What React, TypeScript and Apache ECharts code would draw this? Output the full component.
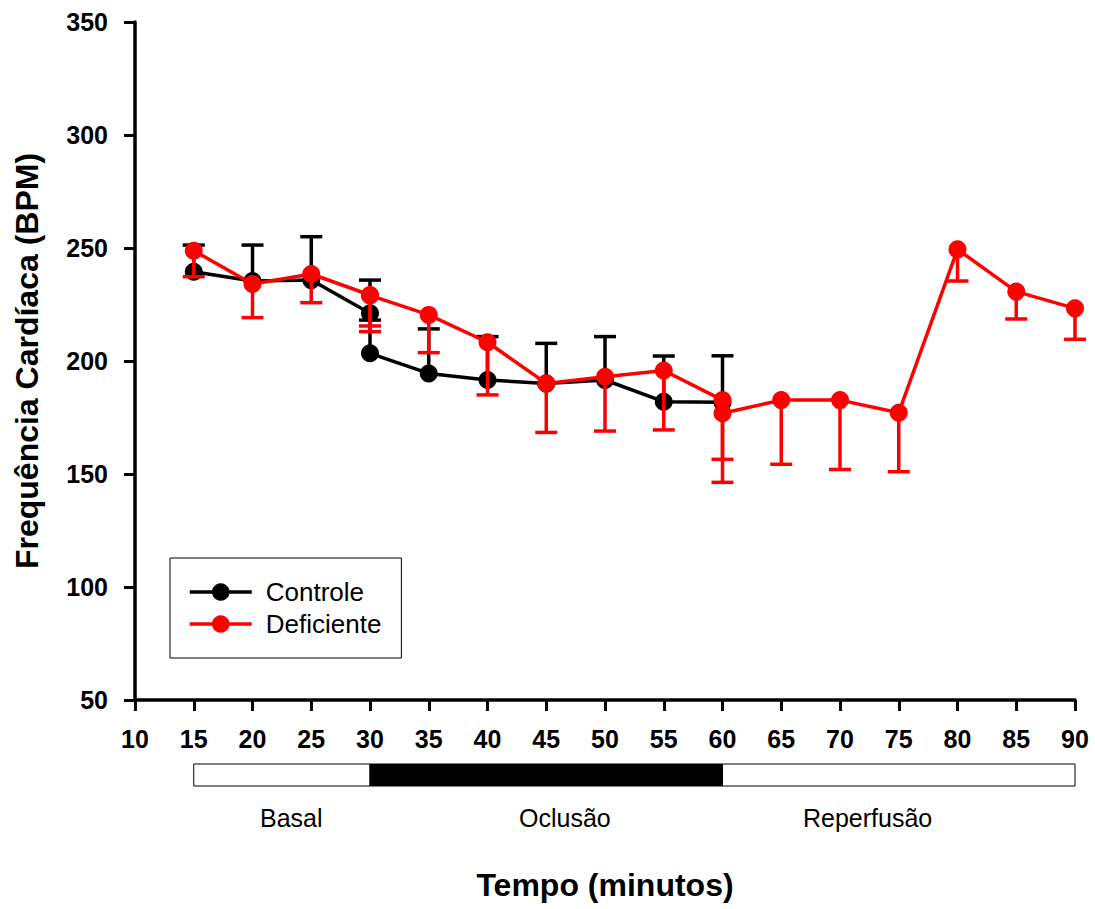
import React, { useEffect, useRef } from "react";
import * as echarts from "echarts";

// ---- data (minutes, BPM, SEM) ----
const ctrlBasalX = [15, 20, 25, 30];
const ctrlBasalY = [239.5, 235.4, 235.8, 221.1];
const ctrlBasalSem = [11.8, 15.9, 19.2, 14.7];

const ctrlOcclX = [30, 35, 40, 45, 50, 55, 60];
const ctrlOcclY = [203.4, 194.5, 191.6, 190.0, 191.6, 182.0, 181.8];
const ctrlOcclSem = [14.7, 19.7, 19.2, 17.8, 19.2, 20.2, 20.5];

const defBasalX = [15, 20, 25, 30];
const defBasalY = [248.8, 234.1, 238.5, 229.2];
const defBasalSem = [11.5, 14.9, 12.7, 13.7];

const defOcclX = [30, 35, 40, 45, 50, 55, 60];
const defOcclY = [229.0, 220.4, 208.3, 190.1, 193.0, 195.8, 182.7];
const defOcclSem = [16.0, 16.7, 23.3, 21.7, 24.0, 26.3, 26.2];

const defRepX = [60, 65, 70, 75, 80, 85, 90];
const defRepY = [176.9, 182.7, 182.7, 177.1, 249.4, 230.7, 223.3];
const defRepSem = [30.6, 28.4, 30.7, 26.1, 14.0, 12.1, 13.7];

const phaseNames = ["Basal", "Oclusão", "Reperfusão"];
const phaseStart = [15, 30, 60];
const phaseEnd = [30, 60, 90];
const phaseFill = ["#ffffff", "#000000", "#ffffff"];

const xTicks = { min: 10, max: 90, interval: 5 };
const yTicks = { min: 50, max: 350, interval: 50 };

const FONT = "'Liberation Sans', Arial, Helvetica, sans-serif";
const BLACK = "#000000";
const RED = "#ff0000";

function pts(xs: number[], ys: number[]) {
  return xs.map((x, i) => [x, ys[i]]);
}
function errs(xs: number[], ys: number[], sem: number[], dir: number) {
  return xs.map((x, i) => [x, ys[i], ys[i] + dir * sem[i]]);
}

function lineSeries(name: string, data: number[][], color: string, z: number) {
  return {
    type: "line",
    name,
    data,
    xAxisIndex: 0,
    yAxisIndex: 0,
    symbol: "circle",
    symbolSize: 18,
    showAllSymbol: true,
    lineStyle: { color, width: 3.5 },
    itemStyle: { color },
    z,
    silent: true,
  };
}

function errSeries(data: number[][], color: string, z: number) {
  return {
    type: "custom",
    name: "err",
    xAxisIndex: 0,
    yAxisIndex: 0,
    data,
    encode: { x: 0, y: [1, 2] },
    z,
    silent: true,
    renderItem: (params: any, api: any) => {
      const x = api.value(0);
      const y = api.value(1);
      const c = api.value(2);
      const p = api.coord([x, y]);
      const q = api.coord([x, c]);
      return {
        type: "group",
        children: [
          {
            type: "line",
            shape: { x1: p[0], y1: p[1], x2: q[0], y2: q[1] },
            style: { stroke: color, lineWidth: 3.5 },
          },
          {
            type: "line",
            shape: { x1: q[0] - 11, y1: q[1], x2: q[0] + 11, y2: q[1] },
            style: { stroke: color, lineWidth: 3.5 },
          },
        ],
      };
    },
  };
}

export default function App() {
  const ref = useRef<HTMLDivElement>(null);
  useEffect(() => {
    if (!ref.current) return;
    const chart = echarts.init(ref.current, undefined, { renderer: "svg" });
    const phaseData = phaseNames.map((n, i) => [phaseStart[i], phaseEnd[i], i]);
    const option: any = {
      animation: false,
      backgroundColor: "#ffffff",
      textStyle: { fontFamily: FONT },
      grid: [
        { left: 135, right: 20, top: 22, bottom: 209, containLabel: false },
        { left: 135, right: 20, top: 764, height: 22, containLabel: false },
      ],
      xAxis: [
        {
          type: "value",
          gridIndex: 0,
          min: xTicks.min,
          max: xTicks.max,
          interval: xTicks.interval,
          name: "Tempo (minutos)",
          nameLocation: "middle",
          nameGap: 169,
          nameTextStyle: { fontFamily: FONT, fontWeight: "bold", fontSize: 32, color: BLACK },
          axisLine: { show: true, onZero: false, lineStyle: { color: BLACK, width: 3.5 } },
          axisTick: { show: true, inside: false, length: 11, lineStyle: { color: BLACK, width: 3 } },
          axisLabel: { fontFamily: FONT, fontWeight: "bold", fontSize: 25, color: BLACK, margin: 26 },
          splitLine: { show: false },
        },
        {
          type: "value",
          gridIndex: 1,
          min: xTicks.min,
          max: xTicks.max,
          show: false,
        },
      ],
      yAxis: [
        {
          type: "value",
          gridIndex: 0,
          min: yTicks.min,
          max: yTicks.max,
          interval: yTicks.interval,
          name: "Frequência Cardíaca (BPM)",
          nameLocation: "middle",
          nameGap: 92,
          nameTextStyle: { fontFamily: FONT, fontWeight: "bold", fontSize: 32, color: BLACK },
          axisLine: { show: true, onZero: false, lineStyle: { color: BLACK, width: 3.5 } },
          axisTick: { show: true, inside: false, length: 11, lineStyle: { color: BLACK, width: 3 } },
          axisLabel: { fontFamily: FONT, fontWeight: "bold", fontSize: 25, color: BLACK, margin: 27 },
          splitLine: { show: false },
        },
        {
          type: "value",
          gridIndex: 1,
          min: 0,
          max: 1,
          show: false,
        },
      ],
      legend: {
        data: ["Controle", "Deficiente"],
        orient: "vertical",
        left: 170,
        top: 558,
        itemWidth: 62,
        itemHeight: 22,
        itemGap: 6,
        padding: [21, 20, 21, 18],
        backgroundColor: "#ffffff",
        borderColor: BLACK,
        borderWidth: 1,
        borderRadius: 0,
        selectedMode: false,
        lineStyle: { width: 3.5 },
        textStyle: { fontFamily: FONT, fontSize: 26, color: BLACK, padding: [0, 0, 0, 9] },
      },
      series: [
        errSeries(errs(ctrlBasalX, ctrlBasalY, ctrlBasalSem, 1), BLACK, 1),
        errSeries(errs(ctrlOcclX, ctrlOcclY, ctrlOcclSem, 1), BLACK, 1),
        lineSeries("Controle", pts(ctrlBasalX, ctrlBasalY), BLACK, 2),
        lineSeries("Controle", pts(ctrlOcclX, ctrlOcclY), BLACK, 2),
        errSeries(errs(defBasalX, defBasalY, defBasalSem, -1), RED, 3),
        errSeries(errs(defOcclX, defOcclY, defOcclSem, -1), RED, 3),
        errSeries(errs(defRepX, defRepY, defRepSem, -1), RED, 3),
        lineSeries("Deficiente", pts(defBasalX, defBasalY), RED, 4),
        lineSeries("Deficiente", pts(defOcclX, defOcclY), RED, 4),
        lineSeries("Deficiente", pts(defRepX, defRepY), RED, 4),
        {
          type: "custom",
          name: "phases",
          xAxisIndex: 1,
          yAxisIndex: 1,
          data: phaseData,
          encode: { x: [0, 1] },
          silent: true,
          renderItem: (params: any, api: any) => {
            const s = api.coord([api.value(0), 1]);
            const e = api.coord([api.value(1), 0]);
            const idx = api.value(2);
            return {
              type: "rect",
              shape: { x: s[0], y: s[1], width: e[0] - s[0], height: e[1] - s[1] },
              style: { fill: phaseFill[idx], stroke: BLACK, lineWidth: 1 },
            };
          },
        },
      ],
      graphic: [
        { type: "text", left: 260, top: 805, style: { text: phaseNames[0], font: `25px ${FONT}`, fill: BLACK } },
        { type: "text", left: 519, top: 805, style: { text: phaseNames[1], font: `25px ${FONT}`, fill: BLACK } },
        { type: "text", left: 803, top: 805, style: { text: phaseNames[2], font: `25px ${FONT}`, fill: BLACK } },
      ],
    };
    chart.setOption(option);
    return () => chart.dispose();
  }, []);
  return (
    <div
      ref={ref}
      style={{ position: "absolute", left: 0, top: 0, width: 1095, height: 909, background: "#fff" }}
    />
  );
}
